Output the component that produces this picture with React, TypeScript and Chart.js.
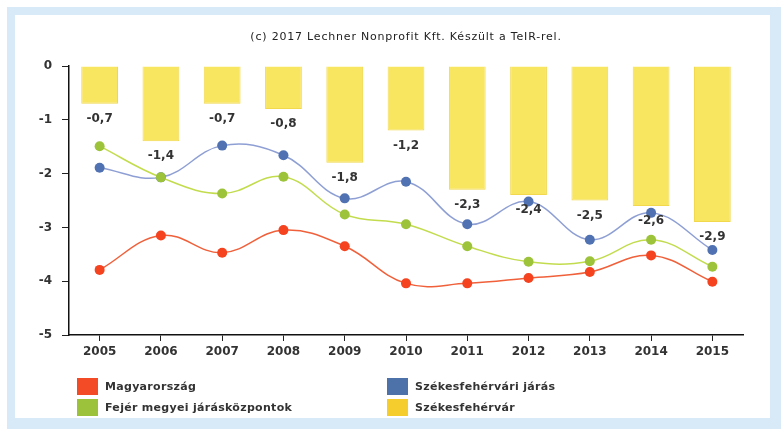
import React, { useEffect, useRef } from "react";
import { Chart, registerables } from "chart.js";

Chart.register(...registerables);

const years = ["2005", "2006", "2007", "2008", "2009", "2010", "2011", "2012", "2013", "2014", "2015"];
const szekesfehervar = [-0.7, -1.4, -0.7, -0.8, -1.8, -1.2, -2.3, -2.4, -2.5, -2.6, -2.9];
const magyarorszag = [-3.79, -3.15, -3.47, -3.05, -3.35, -4.04, -4.04, -3.94, -3.83, -3.52, -4.01];
const fejerJaraskozpontok = [-1.49, -2.07, -2.37, -2.06, -2.76, -2.94, -3.35, -3.64, -3.63, -3.23, -3.73];
const szekesfehervariJaras = [-1.89, -2.07, -1.48, -1.66, -2.46, -2.15, -2.94, -2.52, -3.23, -2.73, -3.42];
const yTicks = [0, -1, -2, -3, -4, -5];
const titleText = "(c) 2017 Lechner Nonprofit Kft. Készült a TeIR-rel.";

const FONT = "'DejaVu Sans', Verdana, sans-serif";

const legendItems = [
  { label: "Magyarország", color: "#f24b26", col: 0, row: 0 },
  { label: "Fejér megyei járásközpontok", color: "#9cc23c", col: 0, row: 1 },
  { label: "Székesfehérvári járás", color: "#4d72aa", col: 1, row: 0 },
  { label: "Székesfehérvár", color: "#f5cd2c", col: 1, row: 1 },
];

const fmt = (v: number) => v.toFixed(1).replace(".", ",");

const decorPlugin = {
  id: "decor",
  afterDatasetsDraw(chart: any) {
    const ctx = chart.ctx;
    const meta = chart.getDatasetMeta(0);
    ctx.save();
    ctx.font = `bold 12px ${FONT}`;
    ctx.fillStyle = "#333";
    ctx.textAlign = "center";
    ctx.textBaseline = "middle";
    meta.data.forEach((el: any, i: number) => {
      ctx.fillText(fmt(szekesfehervar[i]), el.x, el.y + 15);
    });
    ctx.restore();
  },
  afterDraw(chart: any) {
    const ctx = chart.ctx;
    const area = chart.chartArea;
    ctx.save();
    ctx.font = `11px ${FONT}`;
    (ctx as any).letterSpacing = "0.8px";
    ctx.fillStyle = "#222";
    ctx.textAlign = "center";
    ctx.textBaseline = "middle";
    ctx.fillText(titleText, (area.left + area.right) / 2, 37);

    ctx.font = `bold 11px ${FONT}`;
    (ctx as any).letterSpacing = "0.3px";
    ctx.textAlign = "left";
    legendItems.forEach((it) => {
      const x = it.col === 0 ? 77 : 387;
      const y = it.row === 0 ? 378 : 399;
      ctx.fillStyle = it.color;
      ctx.fillRect(x, y, 21, 17);
      ctx.fillStyle = "#333";
      ctx.fillText(it.label, x + 28, y + 9);
    });
    ctx.restore();
  },
};

export default function App() {
  const ref = useRef<HTMLCanvasElement | null>(null);

  useEffect(() => {
    if (!ref.current) return;
    const chart = new Chart(ref.current, {
      type: "bar",
      data: {
        labels: years,
        datasets: [
          {
            type: "bar",
            label: "Székesfehérvár",
            data: szekesfehervar,
            backgroundColor: "#f9e660",
            borderColor: "#f1d84c",
            borderWidth: 1,
            barPercentage: 0.6,
            categoryPercentage: 1,
            order: 3,
          },
          {
            type: "line",
            label: "Magyarország",
            data: magyarorszag,
            borderColor: "#f0603a",
            backgroundColor: "#f5421f",
            pointBackgroundColor: "#f5421f",
            pointBorderWidth: 0,
            pointRadius: 5,
            borderWidth: 1.5,
            tension: 0.4,
            order: 1,
          },
          {
            type: "line",
            label: "Fejér megyei járásközpontok",
            data: fejerJaraskozpontok,
            borderColor: "#c2dc4e",
            backgroundColor: "#9cc33a",
            pointBackgroundColor: "#9cc33a",
            pointBorderWidth: 0,
            pointRadius: 5,
            borderWidth: 1.5,
            tension: 0.4,
            order: 1,
          },
          {
            type: "line",
            label: "Székesfehérvári járás",
            data: szekesfehervariJaras,
            borderColor: "#8e9fd4",
            backgroundColor: "#5072b2",
            pointBackgroundColor: "#5072b2",
            pointBorderWidth: 0,
            pointRadius: 5,
            borderWidth: 1.5,
            tension: 0.4,
            order: 1,
          },
        ],
      },
      options: {
        responsive: false,
        animation: false,
        layout: { padding: { top: 66, left: 0, right: 38, bottom: 64 } },
        plugins: {
          legend: { display: false },
          tooltip: { enabled: false },
          title: { display: false },
        },
        scales: {
          x: {
            type: "category",
            offset: true,
            afterFit: (s: any) => {
              s.height = 30;
            },
            grid: {
              offset: false,
              drawOnChartArea: false,
              drawTicks: true,
              tickLength: 6,
              color: "#222",
            },
            border: { display: true, color: "#111", width: 1.5 },
            ticks: {
              font: { family: FONT, size: 12, weight: "bold" },
              color: "#333",
              padding: 4,
              maxRotation: 0,
            },
          },
          y: {
            type: "linear",
            min: -5,
            max: 0,
            afterFit: (s: any) => {
              s.width = 69;
            },
            afterBuildTicks: (s: any) => {
              s.ticks = yTicks.map((v) => ({ value: v }));
            },
            grid: {
              drawOnChartArea: false,
              drawTicks: true,
              tickLength: 7,
              color: "#222",
            },
            border: { display: true, color: "#111", width: 1.5 },
            ticks: {
              font: { family: FONT, size: 12, weight: "bold" },
              color: "#333",
              padding: 10,
              callback: (v: any) => String(v),
            },
          },
        },
      },
      plugins: [decorPlugin],
    });
    return () => chart.destroy();
  }, []);

  return (
    <div style={{ position: "fixed", left: 0, top: 0, width: 781, height: 429, background: "#ffffff", overflow: "hidden" }}>
      <div
        style={{
          position: "absolute",
          left: 7,
          top: 7,
          width: 774 - 19,
          height: 422 - 19,
          borderStyle: "solid",
          borderColor: "#d8e9f7",
          borderWidth: "8px 11px 11px 8px",
          background: "#ffffff",
        }}
      />
      <canvas ref={ref} width={781} height={429} style={{ position: "absolute", left: 0, top: 0, width: 781, height: 429 }} />
    </div>
  );
}
